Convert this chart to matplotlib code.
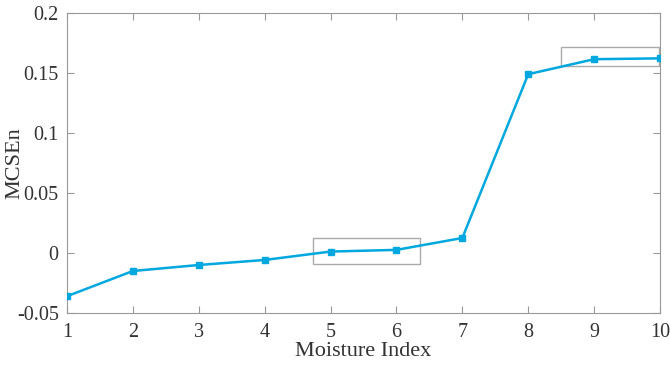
import matplotlib
matplotlib.use('Agg')
import matplotlib.pyplot as plt
from matplotlib.patches import Rectangle

moisture_index = [1, 2, 3, 4, 5, 6, 7, 8, 9, 10]
mcsen = [-0.036, -0.015, -0.010, -0.0058, 0.0012, 0.0026, 0.0125, 0.149, 0.1615, 0.1622]

# highlight boxes: (x0, y0, width, height) in data units
boxes = [
    (4.73, -0.0094, 1.63, 0.0222),
    (8.49, 0.1558, 1.50, 0.0156),
]

plt.rcParams['font.family'] = ['Liberation Serif', 'DejaVu Serif']

fig = plt.figure(figsize=(6.7, 3.65), dpi=100)
ax = fig.add_axes([67 / 670, 52 / 365, 593 / 670, 300 / 365])

line_color = '#00a8df'
ax.plot(moisture_index, mcsen, color=line_color, linewidth=1.8,
        marker='s', markersize=5, zorder=3)

for x0, y0, w, h in boxes:
    ax.add_patch(Rectangle((x0, y0), w, h, fill=False, edgecolor='#aaaaaa',
                           linewidth=1.0, zorder=2))

ax.set_xlim(1, 10)
ax.set_ylim(-0.05, 0.2)
ax.set_xticks(range(1, 11))
ax.set_yticks([-0.05, 0, 0.05, 0.1, 0.15, 0.2])
ax.set_yticklabels(['-0.05', '0', '0.05', '0.1', '0.15', '0.2'])

for s in ax.spines.values():
    s.set_color('#999999')
    s.set_linewidth(0.8)
ax.tick_params(direction='in', top=True, right=True, length=5,
               color='#999999', labelsize=14.5, labelcolor='#333333')
ax.tick_params(axis='x', pad=7)
ax.tick_params(axis='y', pad=6)

ax.set_xlabel('Moisture Index', fontsize=16, color='#333333', va='center')
ax.xaxis.set_label_coords(0.5, -0.13)
ax.set_ylabel('MCSEn', fontsize=16, color='#333333', va='center')
ax.yaxis.set_label_coords(-0.088, 0.5)

fig.savefig('out.png', dpi=100)
